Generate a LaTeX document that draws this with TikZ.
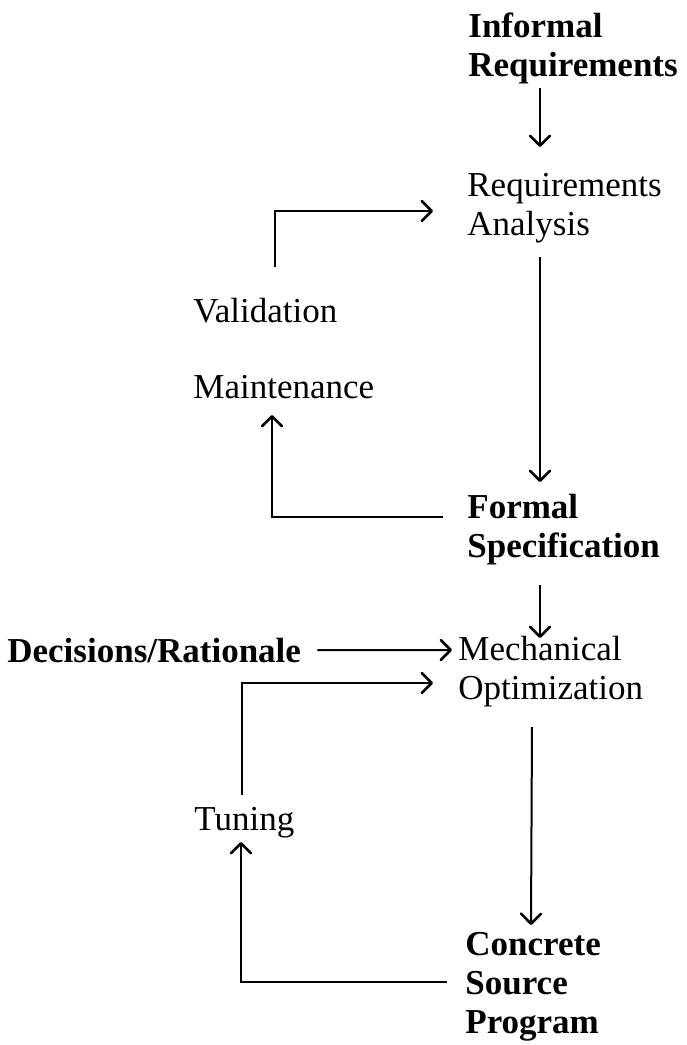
\documentclass[tikz,border=0pt]{standalone}
\usepackage{fontspec}
\setmainfont{Liberation Serif}
\usetikzlibrary{arrows.meta}

\begin{document}
\begin{tikzpicture}[x=0.5pt,y=-0.5pt,
			every node/.style={inner sep=0pt,anchor=base west,align=left,
				font=\fontsize{17.5}{19.5}\selectfont},
			box/.style={text width=110pt},
			bold/.style={font=\fontsize{17.5}{19.5}\selectfont\bfseries},
			arr/.style={-{Straight Barb[length=5pt,width=10pt,line width=1.3pt,round]},line width=1pt}]
			\useasboundingbox (0,0) rectangle (686,1045);
			
			% steps
			\node[box,bold] (informal) at (468,37) {Informal\\Requirements};
			\node[box] (reqan) at (467,196) {Requirements\\Analysis};
			\node (valid) at (193,322) {Validation};
			\node (maint) at (193,398) {Maintenance};
			\node[box,bold] (formal) at (467,518) {Formal\\Specification};
			\node[bold] (decis) at (7,662) {Decisions/Rationale};
			\node[box] (mech) at (458,660) {Mechanical\\Optimization};
			\node (tuning) at (194,830) {Tuning};
			\node[box,bold] (concrete) at (465,955) {Concrete\\Source\\Program};
			
			% main line
			\draw[arr] ([shift={(72,51)}]informal.base west) -- ([shift={(73,-49)}]reqan.base west);
			\draw[arr] ([shift={(73,61)}]reqan.base west) -- ([shift={(73,-36)}]formal.base west);
			\draw[arr] ([shift={(73,67)}]formal.base west) -- ([shift={(82,-22)}]mech.base west);
			\draw[arr] ([shift={(74,67)}]mech.base west) -- ([shift={(66,-30)}]concrete.base west);
			\draw[arr] ([shift={(16,0)}]decis.east) -- ([shift={(-6,-10)}]mech.base west);
			
			% loops
			\draw[arr] ([shift={(82,-55)}]valid.base west) |- ([shift={(-34,15)}]reqan.base west);
			\draw[arr] ([shift={(-24,-1)}]formal.base west) -| ([shift={(79,17)}]maint.base west);
			\draw[arr] ([shift={(48,-35)}]tuning.base west) |- ([shift={(-25,23)}]mech.base west);
			\draw[arr] ([shift={(-18,27)}]concrete.base west) -| ([shift={(47,12)}]tuning.base west);
		\end{tikzpicture}
\end{document}
